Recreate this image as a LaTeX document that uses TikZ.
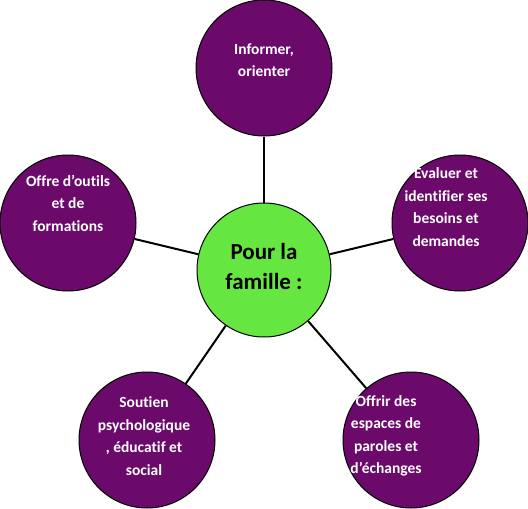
\documentclass[tikz,border=0pt]{standalone}
\usepackage{fontspec}
\setmainfont{Carlito}[Ligatures=NoCommon]
\definecolor{purp}{RGB}{108,10,108}
\definecolor{grn}{RGB}{102,230,64}
\begin{document}
\begin{tikzpicture}[x=1pt,y=-1pt,
  outer/.style={circle,draw=black,line width=1pt,fill=purp,minimum size=136pt,inner sep=0pt},
  inner/.style={circle,draw=black,line width=1pt,fill=grn,minimum size=134pt,inner sep=0pt},
  otext/.style={align=center,text=white,font=\fontsize{15.5}{22.5}\selectfont\bfseries,inner sep=0pt},
  itext/.style={align=center,text=black,font=\fontsize{23}{30}\selectfont\bfseries,inner sep=0pt},
  link/.style={draw=black,line width=2pt}]
\useasboundingbox (0,0) rectangle (528,509);
\node[outer] (t) at (264,68) {};
\node[outer] (r) at (460,223) {};
\node[outer] (br) at (411,440) {};
\node[outer] (bl) at (147,440) {};
\node[outer] (l) at (68,223) {};
\node[inner] (c) at (264,270) {};
\draw[link] (c) -- (t);
\draw[link] (c) -- (r);
\draw[link] (c) -- (br);
\draw[link] (c) -- (bl);
\draw[link] (c) -- (l);
\node[itext] (ct) at (264,267) {Pour la\\famille :};
\node[otext] (tt) at (264,60) {Informer,\\orienter};
\node[otext] (rt) at (446,207) {Evaluer et\\identifier ses\\besoins et\\demandes};
\node[otext] (lt) at (68,203) {Offre d’outils\\et de\\formations};
\node[otext] (blt) at (144,436) {Soutien\\psychologique\\, éducatif et\\social};
\node[otext] (brt) at (386,436) {Offrir des\\espaces de\\paroles et\\d’échanges};
\end{tikzpicture}
\end{document}
